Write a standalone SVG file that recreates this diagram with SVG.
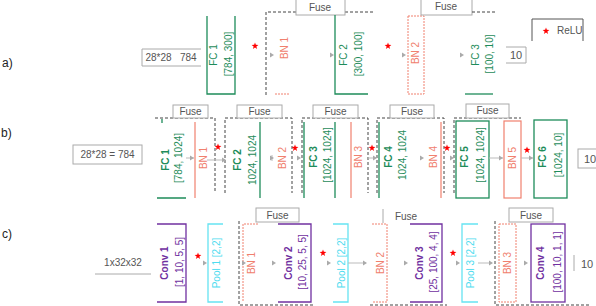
<svg xmlns="http://www.w3.org/2000/svg" width="596" height="306" viewBox="0 0 596 306">
<style>
text{font-family:"Liberation Sans","DejaVu Sans",sans-serif;font-size:10px}
.lbl{font-size:12px;fill:#222}
.in{fill:#555;text-anchor:middle}
.r{text-anchor:middle;dominant-baseline:central}
.g{fill:#1e8c5a}.gb{fill:#1e8c5a;font-weight:bold}
.s{fill:#f0806e}.p{fill:#7030a0}.pb{fill:#7030a0;font-weight:bold}.c{fill:#4fdcef}
.gl{fill:none;stroke:#1e8c5a;stroke-width:1.3}
.sl{fill:none;stroke:#f0806e;stroke-width:1.2}
.sd{fill:none;stroke:#f0806e;stroke-width:1;stroke-dasharray:2 1}
.pl{fill:none;stroke:#7030a0;stroke-width:1.3}
.cl{fill:none;stroke:#66e3f2;stroke-width:1.3}
.dash{fill:none;stroke:#444;stroke-width:1;stroke-dasharray:3 2}
.box{fill:#fff;stroke:#aaa;stroke-width:1}
.gray{fill:none;stroke:#aaa;stroke-width:1}
.fuse{fill:#555;text-anchor:middle}
.line{fill:none;stroke:#bbb;stroke-width:1}
.ah{fill:#aaa}
.star{fill:#f00}
</style>
<defs>
<path id="star" class="star" d="M0,-3.6 L0.85,-1.15 L3.4,-1.1 L1.37,0.45 L2.1,2.9 L0,1.45 L-2.1,2.9 L-1.37,0.45 L-3.4,-1.1 L-0.85,-1.15 Z"/>
<path id="ah" class="ah" d="M-4,-2.5 L0,0 L-4,2.5 Z"/>
</defs>

<!-- Row a -->
<g id="row-a">
<text class="lbl" x="2" y="67">a)</text>
<g id="a-input"><path class="gray" d="M201,49 H142 V66 H201"/><text class="in" x="171" y="61" xml:space="preserve">28*28   784</text></g>
<g id="a-fc1"><path class="gl" d="M207,16 V94 H235 V16"/>
<text class="g r" transform="translate(213,55) rotate(-90)">FC 1</text>
<text class="g r" transform="translate(228,54) rotate(-90)">[784, 300]</text></g>
<g id="a-fuse1"><path class="dash" d="M266,95 V12 H296 M345,12 H375"/>
<rect class="box" x="296" y="-1" width="49" height="16"/><text class="fuse" x="320" y="11">Fuse</text></g>
<g id="a-bn1"><text class="s r" transform="translate(284,48) rotate(-90)">BN 1</text><path class="sd" d="M275,94 H290"/></g>
<g id="a-fc2"><path class="gl" d="M335,15 V94 H368"/>
<text class="g r" transform="translate(343,55) rotate(-90)">FC 2</text>
<text class="g r" transform="translate(358,54) rotate(-90)">[300, 100]</text></g>
<g id="a-bn2"><rect class="sd" x="408" y="16" width="16" height="78"/>
<text class="s r" transform="translate(415,53) rotate(-90)">BN 2</text></g>
<g id="a-fuse2"><rect class="box" x="421" y="-1" width="51" height="16"/><text class="fuse" x="446" y="10">Fuse</text>
<path class="dash" d="M472,12 H497"/></g>
<g id="a-fc3"><path class="gl" d="M465,94 H493"/>
<text class="g r" transform="translate(475,55) rotate(-90)">FC 3</text>
<text class="g r" transform="translate(489,54) rotate(-90)">[100, 10]</text></g>
<g id="a-out"><path class="gray" d="M506,47 H526 V63 H506"/><text class="in" x="516" y="59" style="font-size:11px">10</text></g>
<g id="legend"><path fill="none" stroke="#555" d="M532,41 V19 H583 V41"/><use href="#star" x="546" y="31"/><text x="557" y="34" fill="#555">ReLU</text></g>
</g>

<!-- Row b -->
<g id="row-b">
<text class="lbl" x="1" y="137">b)</text>
<g id="b-input"><rect class="box" x="73" y="145" width="69" height="19"/><text class="in" x="107.5" y="158">28*28 = 784</text></g>
<g id="b-fuse1"><path class="dash" d="M155,118 H215 V193"/><rect class="box" x="173" y="105" width="35" height="13"/><text class="fuse" x="190.5" y="115">Fuse</text></g>
<g id="b-fc1"><path class="gl" d="M162,119 V123 M157,198 H186"/>
<text class="gb r" transform="translate(165,160) rotate(-90)">FC 1</text>
<text class="g r" transform="translate(178,158) rotate(-90)">[784, 1024]</text></g>
<g id="b-bn1"><path class="sl" d="M195,122 V198"/><text class="s r" transform="translate(203,158) rotate(-90)">BN 1</text></g>
<g id="b-fuse2"><path class="dash" d="M225,193 V118 H292 V193"/><rect class="box" x="237" y="105" width="45" height="13"/><text class="fuse" x="259.5" y="115">Fuse</text></g>
<g id="b-fc2"><path class="gl" d="M260,122 V198"/>
<text class="gb r" transform="translate(237,160) rotate(-90)">FC 2</text>
<text class="g r" transform="translate(252,160) rotate(-90)">1024, 1024</text></g>
<g id="b-bn2"><text class="s r" transform="translate(282,158) rotate(-90)">BN 2</text></g>
<g id="b-fuse3"><path class="dash" d="M302,193 V118 H368 V193"/><rect class="box" x="313" y="105" width="45" height="13"/><text class="fuse" x="335.5" y="115">Fuse</text></g>
<g id="b-fc3"><path class="gl" d="M304,122 V198 M335,122 V198"/>
<text class="gb r" transform="translate(313,157) rotate(-90)">FC 3</text>
<text class="g r" transform="translate(327,155) rotate(-90)">[1024, 1024]</text></g>
<g id="b-bn3"><path class="sl" d="M351,122 V198"/><text class="s r" transform="translate(358,157) rotate(-90)">BN 3</text></g>
<g id="b-fuse4"><path class="dash" d="M377,193 V118 H444 V193"/><rect class="box" x="390" y="105" width="44" height="13"/><text class="fuse" x="412" y="115">Fuse</text></g>
<g id="b-fc4"><path class="gl" d="M379,122 V198"/>
<text class="gb r" transform="translate(388,157) rotate(-90)">FC 4</text>
<text class="g r" transform="translate(402,155) rotate(-90)">1024, 1024</text></g>
<g id="b-bn4"><path class="sl" d="M441,122 V198"/><text class="s r" transform="translate(433,157) rotate(-90)">BN 4</text></g>
<g id="b-fuse5"><path class="dash" d="M454,193 V118 H521"/><rect class="box" x="466" y="104" width="43" height="14"/><text class="fuse" x="487.5" y="114">Fuse</text></g>
<g id="b-fc5"><rect class="gl" x="456" y="121" width="33" height="77"/>
<text class="gb r" transform="translate(464,157) rotate(-90)">FC 5</text>
<text class="g r" transform="translate(480,155) rotate(-90)">[1024, 1024]</text></g>
<g id="b-bn5"><rect class="sl" x="504" y="121" width="17" height="77"/><text class="s r" transform="translate(512,158) rotate(-90)">BN 5</text></g>
<g id="b-fc6"><rect class="gl" x="534" y="120" width="33" height="78"/>
<text class="gb r" transform="translate(542,157) rotate(-90)">FC 6</text>
<text class="g r" transform="translate(558,155) rotate(-90)">[1024, 10]</text></g>
<g id="b-out"><rect class="box" x="578" y="149" width="30" height="19"/><text x="584" y="163" fill="#555" style="font-size:11px">10</text></g>
</g>

<!-- Row c -->
<g id="row-c">
<text class="lbl" x="2" y="238">c)</text>
<g id="c-input"><text class="in" x="123" y="266">1x32x32</text><path class="gray" d="M95,274 H151"/></g>
<g id="c-conv1"><path class="pl" d="M157,224 H186 V302 H157"/>
<text class="pb r" transform="translate(164,263) rotate(-90)">Conv 1</text>
<text class="p r" transform="translate(179,262) rotate(-90)">[1, 10, 5, 5]</text></g>
<g id="c-pool1"><path class="cl" d="M223,224 H208 V302 H223"/><text class="c r" transform="translate(216,263) rotate(-90)">Pool 1 [2,2]</text></g>
<g id="c-fuse1"><path class="dash" d="M239,221 V305 H313"/><rect class="box" x="256" y="208" width="43" height="14"/><text class="fuse" x="277.5" y="219">Fuse</text></g>
<g id="c-bn1"><path class="sd" d="M258,224 H243 V302"/><text class="s r" transform="translate(251,263) rotate(-90)">BN 1</text></g>
<g id="c-conv2"><path class="pl" d="M278,224 H311 V302 H278"/>
<text class="pb r" transform="translate(288,263) rotate(-90)">Conv 2</text>
<text class="p r" transform="translate(302,262) rotate(-90)">[10, 25, 5, 5]</text></g>
<g id="c-pool2"><path class="cl" d="M333,224 H348 V302 H333"/><text class="c r" transform="translate(341,263) rotate(-90)">Pool 2 [2,2]</text></g>
<g id="c-bn2"><path class="sd" d="M372,224 H387 V302 H372"/><text class="s r" transform="translate(380,263) rotate(-90)">BN 2</text></g>
<g id="c-fuse2"><path class="gray" d="M383,209 V223"/><text class="fuse" x="406" y="220">Fuse</text><path class="dash" d="M370,305 H447"/></g>
<g id="c-conv3"><path class="pl" d="M410,224 H442 V302 H410"/>
<text class="pb r" transform="translate(419,263) rotate(-90)">Conv 3</text>
<text class="p r" transform="translate(433,262) rotate(-90)">[25, 100, 4, 4]</text></g>
<g id="c-pool3"><path class="cl" d="M478,224 H462 V302 H478"/><text class="c r" transform="translate(470,263) rotate(-90)">Pool 3 [2,2]</text></g>
<g id="c-fuse3"><path class="dash" d="M495,221 V305 H590"/><rect class="box" x="509" y="208" width="44" height="14"/><text class="fuse" x="531" y="219">Fuse</text></g>
<g id="c-bn3"><rect class="sd" x="499" y="224" width="17" height="78"/><text class="s r" transform="translate(507,263) rotate(-90)">BN 3</text></g>
<g id="c-conv4"><rect class="pl" x="531" y="224" width="34" height="78"/>
<text class="pb r" transform="translate(540,263) rotate(-90)">Conv 4</text>
<text class="p r" transform="translate(557,262) rotate(-90)">[100, 10, 1, 1]</text></g>
<g id="c-out"><path class="gray" d="M574,255 V271"/><text x="581" y="268" fill="#555" style="font-size:11px">10</text></g>
</g>

<!-- Connectors: arrows and ReLU marks -->
<g id="connectors">
<use href="#star" x="255" y="46"/><use href="#ah" x="274" y="55"/>
<use href="#ah" x="334" y="55"/><use href="#star" x="388" y="46"/>
<use href="#ah" x="406" y="55"/><use href="#ah" x="464" y="55"/>

<path class="line" d="M186,158 H194"/><use href="#ah" x="194" y="158"/>
<use href="#star" x="218" y="147"/>
<path class="line" d="M207,160 H225"/><use href="#ah" x="226" y="160"/>
<path class="line" d="M272,155 V161"/><use href="#ah" x="274" y="158"/>
<use href="#star" x="295" y="148"/><use href="#ah" x="301" y="158"/>
<use href="#star" x="372" y="148"/>
<path class="line" d="M368,158 H376"/><use href="#ah" x="377" y="158"/>
<use href="#ah" x="424" y="158"/>
<use href="#star" x="447" y="148"/><use href="#ah" x="454" y="158"/>
<path class="line" d="M489,158 H503"/><use href="#ah" x="503" y="158"/>
<use href="#star" x="527" y="150"/>
<path class="line" d="M521,158 H533"/><use href="#ah" x="533" y="158"/>

<use href="#star" x="198" y="256"/><use href="#ah" x="207" y="263"/>
<use href="#ah" x="246" y="263"/><use href="#ah" x="276" y="263"/>
<use href="#star" x="323" y="253"/><use href="#ah" x="331" y="263"/>
<path class="line" d="M348,263 H366"/><use href="#ah" x="367" y="263"/>
<use href="#ah" x="408" y="263"/>
<use href="#star" x="453" y="253"/><use href="#ah" x="460" y="263"/>
<path class="line" d="M478,263 H492"/><use href="#ah" x="493" y="263"/>
<use href="#ah" x="528" y="263"/>
</g>
</svg>
